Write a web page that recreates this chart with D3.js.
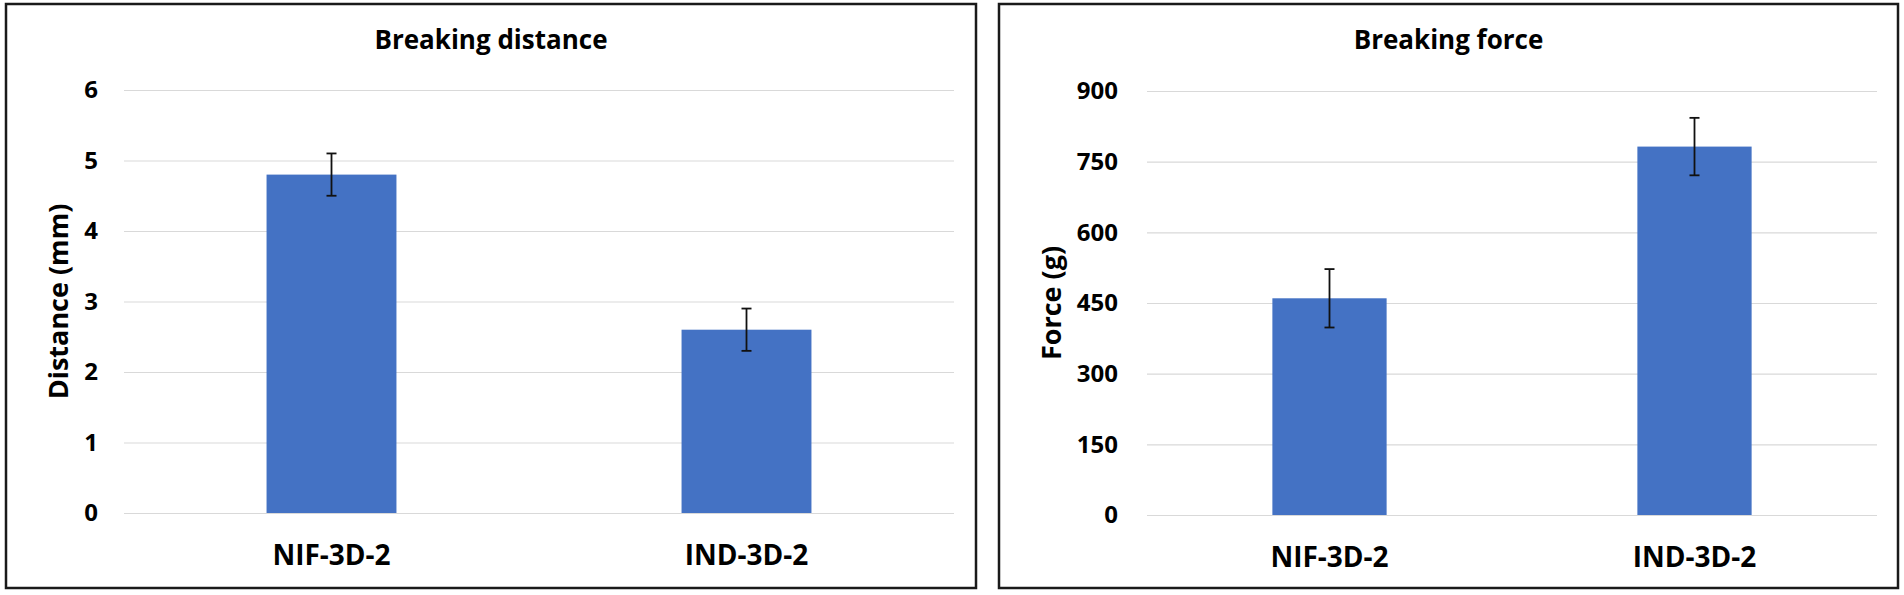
<!DOCTYPE html>
<html lang="en">

<head>
  <meta charset="utf-8">
  <title>Breaking distance / Breaking force</title>
  <script src="https://d3js.org/d3.v7.min.js"></script>
  <style>
    body { margin: 0; background: #fff; }
    .painel text { font-family: "Open Sans", sans-serif; font-weight: bold; fill: #000; }
    .grade line { stroke: #d9d9d9; stroke-width: 1.2; }
    .grade .domain { display: none; }
    .eixo-x .domain { display: none; }
  </style>
</head>

<body>
  <div id="chart"></div>

  <script>
    "use strict"

    // dados
    var categorias = ["NIF-3D-2", "IND-3D-2"];

    var distancia = [4.8, 2.6];          // mm
    var distanciaErro = [0.3, 0.3];
    var distanciaTicks = [0, 1, 2, 3, 4, 5, 6];

    var forca = [460, 782];              // g
    var forcaErro = [62, 61];
    var forcaTicks = [0, 150, 300, 450, 600, 750, 900];

    var svg = d3.select('#chart')
      .append('svg')
        .attr('width', 1904)
        .attr('height', 595);

    // caixa = moldura do painel, area = regiao do grafico
    var paineis = [
      {titulo: "Breaking distance", rotulo: "Distance (mm)", valores: distancia, erros: distanciaErro, ticks: distanciaTicks,
       caixa: {x: 6, y: 4, w: 970, h: 584}, area: {x0: 124, x1: 954, y0: 90, y1: 513}, pad: 26, rotuloX: 68},
      {titulo: "Breaking force", rotulo: "Force (g)", valores: forca, erros: forcaErro, ticks: forcaTicks,
       caixa: {x: 999, y: 4, w: 899, h: 584}, area: {x0: 1147, x1: 1877, y0: 91, y1: 515}, pad: 29, rotuloX: 1061}
    ];

    paineis.forEach(function(p) {
      var g = svg.append('g').attr('class', 'painel');
      var larguraVis = p.area.x1 - p.area.x0,
          alturaVis = p.area.y1 - p.area.y0;

      g.append('rect')
        .attr('x', p.caixa.x).attr('y', p.caixa.y)
        .attr('width', p.caixa.w).attr('height', p.caixa.h)
        .attr('fill', 'none')
        .attr('stroke', '#1a1a1a')
        .attr('stroke-width', 2.5);

      var x = d3.scaleBand()
        .domain(categorias)
        .range([0, larguraVis])
        .paddingInner(0.687)
        .paddingOuter(0.3435);

      var y = d3.scaleLinear()
        .domain([p.ticks[0], p.ticks[p.ticks.length - 1]])
        .range([alturaVis, 0]);

      var vis = g.append('g')
        .attr('transform', 'translate(' + p.area.x0 + ',' + p.area.y0 + ')');

      // grade + rotulos do eixo y
      var gy = vis.append('g')
        .attr('class', 'grade')
        .call(d3.axisLeft(y).tickValues(p.ticks).tickSize(-larguraVis).tickPadding(p.pad).tickFormat(d3.format('d')));
      gy.selectAll('text').style('font-size', '24px');

      // barras
      vis.selectAll('rect.barra')
        .data(p.valores)
        .enter()
          .append('rect')
            .attr('class', 'barra')
            .attr('x', (d, i) => x(categorias[i]))
            .attr('y', d => y(d))
            .attr('width', x.bandwidth())
            .attr('height', d => alturaVis - y(d))
            .attr('fill', '#4472c4');

      // barras de erro
      var erro = vis.selectAll('g.erro')
        .data(p.valores)
        .enter()
          .append('g')
            .attr('class', 'erro')
            .attr('transform', (d, i) => 'translate(' + (x(categorias[i]) + x.bandwidth() / 2) + ',0)')
            .attr('stroke', '#111')
            .attr('stroke-width', 1.8);

      erro.append('line')
        .attr('y1', (d, i) => y(d + p.erros[i]))
        .attr('y2', (d, i) => y(d - p.erros[i]));
      erro.append('line')
        .attr('x1', -5).attr('x2', 5)
        .attr('y1', (d, i) => y(d + p.erros[i]))
        .attr('y2', (d, i) => y(d + p.erros[i]));
      erro.append('line')
        .attr('x1', -5).attr('x2', 5)
        .attr('y1', (d, i) => y(d - p.erros[i]))
        .attr('y2', (d, i) => y(d - p.erros[i]));

      // eixo x
      var gx = vis.append('g')
        .attr('class', 'eixo-x')
        .attr('transform', 'translate(0,' + alturaVis + ')')
        .call(d3.axisBottom(x).tickSize(0).tickPadding(32));
      gx.selectAll('text').style('font-size', '28px');

      // titulo
      g.append('text')
        .attr('x', p.caixa.x + p.caixa.w / 2)
        .attr('y', 49)
        .attr('text-anchor', 'middle')
        .style('font-size', '26px')
        .text(p.titulo);

      // rotulo do eixo y
      g.append('text')
        .attr('transform', 'translate(' + p.rotuloX + ',' + (p.area.y0 + alturaVis / 2) + ') rotate(-90)')
        .attr('text-anchor', 'middle')
        .style('font-size', '27px')
        .text(p.rotulo);
    });
  </script>
</body>

</html>
